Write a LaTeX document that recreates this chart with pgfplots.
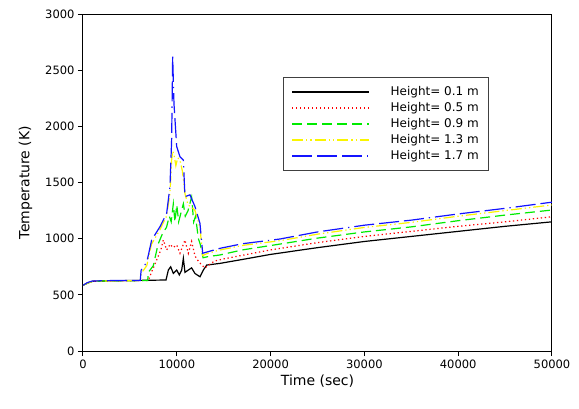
\documentclass[border=0pt]{standalone}
\usepackage{fontspec}
\setmainfont{DejaVu Sans}
\usepackage{pgfplots}
\pgfplotsset{compat=1.18}

\definecolor{lgreen}{RGB}{0,235,0}
\definecolor{lyellow}{RGB}{250,245,0}
\definecolor{lblue}{RGB}{20,20,255}

\begin{document}
\begin{tikzpicture}
\begin{axis}[
  scale only axis, width=469pt, height=337pt,
  xmin=0, xmax=50000, ymin=0, ymax=3000,
  xtick={0,10000,...,50000}, ytick={0,500,...,3000},
  scaled x ticks=false, scaled y ticks=false,
  /pgf/number format/set thousands separator={},
  /pgf/number format/assume math mode=true,
  tick label style={font=\fontsize{11.5}{13}\selectfont},
  label style={font=\fontsize{14}{16}\selectfont},
  xlabel={Time (sec)}, ylabel={Temperature (K)},
  xtick pos=bottom, ytick pos=left, tick align=outside,
  major tick length=5pt,
  axis line style={line width=1pt}, every tick/.style={line width=1pt, black},
  xlabel style={yshift=0pt}, ylabel style={yshift=6pt},
  legend style={at={(axis description cs:0.4264,0.813)}, anchor=north west,
    draw=black!75, line width=1pt, inner xsep=8pt, inner ysep=9pt,
    font=\fontsize{12}{14}\selectfont, row sep=5pt,
    nodes={text height=8.5pt, text depth=2.5pt, inner ysep=0pt},
    /tikz/every odd column/.append style={column sep=19pt}},
  legend cell align=left,
  legend image code/.code={\draw[#1] (0pt,0pt) -- (77pt,0pt);},
  every axis plot/.append style={line width=1.2pt},
]
% Height = 0.1 m
\addplot[black] coordinates {
(0,585) (500,605) (1000,620) (3000,625) (8850,632) (9100,721) (9350,750) (9630,691)
(9990,721) (10270,677) (10520,720) (10700,825) (10870,700) (11230,721) (11580,740)
(11940,690) (12470,661) (12830,721) (13190,765) (14600,780) (17000,815) (20000,860)
(25000,920) (30000,975) (35000,1020) (40000,1065) (45000,1110) (50000,1150)};
\addlegendentry{Height= 0.1 m}
% Height = 0.5 m
\addplot[red, dash pattern=on 1.3pt off 2.7pt] coordinates {
(0,585) (500,605) (1000,620) (3000,625) (6960,627) (7300,700) (7800,800) (8300,900)
(8560,988) (8920,900) (9300,950) (9600,920) (9990,944) (10340,870) (10870,988)
(11230,870) (11580,975) (11940,846) (12300,800) (12650,766) (13000,740) (14000,800)
(15000,820) (20000,900) (25000,965) (30000,1020) (35000,1065) (40000,1110)
(45000,1150) (50000,1195)};
\addlegendentry{Height= 0.5 m}
% Height = 0.9 m
\addplot[lgreen, dash pattern=on 10pt off 5pt] coordinates {
(0,585) (500,605) (1000,620) (3000,625) (6900,627) (6960,700) (7500,760) (8000,950)
(8500,1050) (8900,1100) (9200,1200) (9400,1150) (9630,1310) (9800,1150) (10000,1300)
(10200,1150) (10500,1250) (10700,1310) (10900,1200) (11200,1250) (11580,1370)
(11800,1150) (12000,1200) (12300,1000) (12500,950) (12800,830) (13300,840)
(14600,855) (17000,900) (21000,952) (25000,1005) (30000,1060) (35000,1105)
(40000,1160) (45000,1210) (50000,1255)};
\addlegendentry{Height= 0.9 m}
% Height = 1.3 m
\addplot[lyellow, dash pattern=on 11pt off 3pt on 1.3pt off 3pt on 1.3pt off 3pt] coordinates {
(0,585) (500,605) (1000,620) (3000,625) (6100,627) (6200,690) (6800,760) (7300,950)
(8200,1080) (8900,1200) (9270,1400) (9450,1700) (9560,1780) (9700,1750) (9900,1650)
(10100,1720) (10340,1700) (10600,1600) (10870,1400) (11200,1300) (11600,1280)
(11940,1250) (12470,1100) (12760,850) (13300,870) (14600,899) (17000,940)
(21000,982) (25000,1040) (30000,1100) (35000,1145) (40000,1200) (45000,1250)
(50000,1300)};
\addlegendentry{Height= 1.3 m}
% Height = 1.7 m
\addplot[lblue, dash pattern=on 20pt off 5pt on 20pt off 5pt on 20pt off 5pt on 1.3pt off 5pt] coordinates {
(0,585) (500,610) (1000,623) (3000,627) (6100,627) (6200,720) (6800,790) (7320,988)
(8210,1107) (8920,1226) (9270,1463) (9450,1878) (9560,2620) (9700,2200) (9990,1819)
(10340,1730) (10700,1700) (10870,1374) (11400,1390) (11940,1285) (12470,1136)
(12760,870) (13330,884) (14600,914) (17000,955) (21000,997) (25000,1060)
(30000,1120) (35000,1165) (40000,1220) (45000,1270) (50000,1325)};
\addlegendentry{Height= 1.7 m}
\end{axis}
\path ([shift={(-83pt,-57pt)}]current axis.south west) rectangle ([shift={(496pt,351pt)}]current axis.south west);
\end{tikzpicture}
\end{document}
